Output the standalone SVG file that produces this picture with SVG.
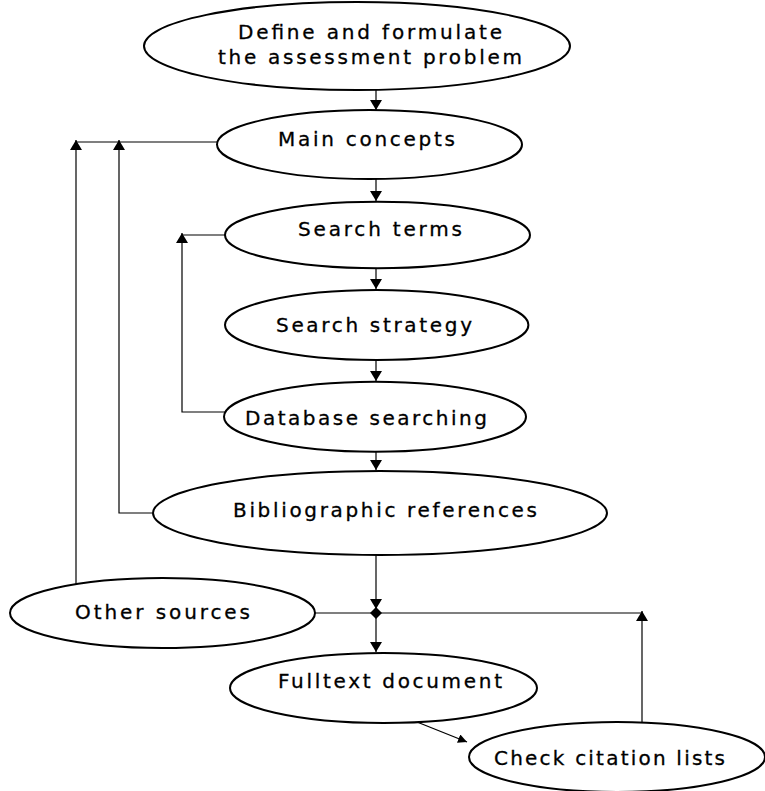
<svg xmlns="http://www.w3.org/2000/svg" width="765" height="791" viewBox="0 0 765 791">
<style>
.node ellipse{fill:#fff;stroke:#000;stroke-width:2}
.node text{font-family:"DejaVu Sans","Verdana",sans-serif;font-size:20px;fill:#000;stroke:#000;stroke-width:0.3}
.conn path{fill:none;stroke:#000;stroke-width:1.2}
</style>
<defs>
<marker id="arr" viewBox="0 0 10 12" refX="10" refY="6" markerWidth="10" markerHeight="12" markerUnits="userSpaceOnUse" orient="auto">
<path d="M0,0 L10,6 L0,12 z" fill="#000"/>
</marker>
<marker id="arrs" viewBox="0 0 10 10" refX="10" refY="5" markerWidth="9" markerHeight="9" markerUnits="userSpaceOnUse" orient="auto">
<path d="M0,0 L10,5 L0,10 z" fill="#000"/>
</marker>
</defs>
<rect width="765" height="791" fill="#fff"/>
<g id="connectors" class="conn">
<path d="M376,90 V110" marker-end="url(#arr)"/>
<path d="M376,179 V201" marker-end="url(#arr)"/>
<path d="M376,268 V289" marker-end="url(#arr)"/>
<path d="M376,360 V381" marker-end="url(#arr)"/>
<path d="M376,452 V470" marker-end="url(#arr)"/>
<path d="M376,555 V609" marker-end="url(#arr)"/>
<path d="M376,613 V652" marker-end="url(#arr)"/>
<path d="M315,613 H642"/>
<path d="M642,722 V611" marker-end="url(#arr)"/>
<path d="M417,722 L467,742" marker-end="url(#arrs)"/>
<path d="M217,142 H76"/>
<path d="M76,584 V140" marker-end="url(#arr)"/>
<path d="M152,513 H119 V140" marker-end="url(#arr)"/>
<path d="M225,235 H182"/>
<path d="M225,412 H182 V233" marker-end="url(#arr)"/>
<polygon points="376,607 382,613 376,619 370,613" fill="#000"/>
</g>
<g id="n-define" class="node">
<ellipse cx="357" cy="46" rx="213" ry="44"/>
<text x="238" y="39" textLength="264" lengthAdjust="spacing">Define and formulate</text>
<text x="218" y="64" textLength="304" lengthAdjust="spacing">the assessment problem</text>
</g>
<g id="n-main" class="node">
<ellipse cx="369.5" cy="144.5" rx="152.5" ry="34.5"/>
<text x="278" y="146" textLength="177" lengthAdjust="spacing">Main concepts</text>
</g>
<g id="n-terms" class="node">
<ellipse cx="377.5" cy="235" rx="152.5" ry="33.3"/>
<text x="298" y="236" textLength="164" lengthAdjust="spacing">Search terms</text>
</g>
<g id="n-strategy" class="node">
<ellipse cx="376.7" cy="325" rx="151.7" ry="35"/>
<text x="276" y="332" textLength="196" lengthAdjust="spacing">Search strategy</text>
</g>
<g id="n-database" class="node">
<ellipse cx="375" cy="416.7" rx="151" ry="35"/>
<text x="245" y="425" textLength="242" lengthAdjust="spacing">Database searching</text>
</g>
<g id="n-biblio" class="node">
<ellipse cx="380" cy="513" rx="227" ry="42"/>
<text x="233" y="517" textLength="304" lengthAdjust="spacing">Bibliographic references</text>
</g>
<g id="n-other" class="node">
<ellipse cx="162.5" cy="613" rx="152.5" ry="35"/>
<text x="75" y="619" textLength="175" lengthAdjust="spacing">Other sources</text>
</g>
<g id="n-fulltext" class="node">
<ellipse cx="383.5" cy="688" rx="153.5" ry="35"/>
<text x="278" y="688" textLength="224" lengthAdjust="spacing">Fulltext document</text>
</g>
<g id="n-check" class="node">
<ellipse cx="617" cy="757" rx="148" ry="35"/>
<text x="494" y="765" textLength="231" lengthAdjust="spacing">Check citation lists</text>
</g>
</svg>
